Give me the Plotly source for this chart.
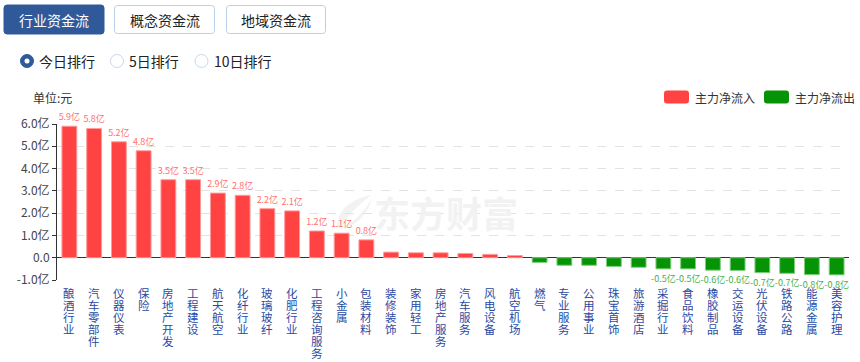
import plotly.graph_objects as go

categories = ["酿酒行业", "汽车零部件", "仪器仪表", "保险", "房地产开发", "工程建设", "航天航空", "化纤行业",
              "玻璃玻纤", "化肥行业", "工程咨询服务", "小金属", "包装材料", "装修装饰", "家用轻工", "房地产服务",
              "汽车服务", "风电设备", "航空机场", "燃气", "专业服务", "公用事业", "珠宝首饰", "旅游酒店",
              "采掘行业", "食品饮料", "橡胶制品", "交运设备", "光伏设备", "铁路公路", "能源金属", "美容护理"]
values = [5.9, 5.8, 5.2, 4.8, 3.5, 3.5, 2.9, 2.8, 2.2, 2.1, 1.2, 1.1, 0.8, 0.25, 0.22, 0.22,
          0.19, 0.15, 0.1, -0.21, -0.34, -0.34, -0.39, -0.43, -0.5, -0.5, -0.56, -0.57, -0.67, -0.7, -0.76, -0.77]
ytick_vals = [-1, 0, 1, 2, 3, 4, 5, 6]
ytick_text = ["-1.0亿", "0.0", "1.0亿", "2.0亿", "3.0亿", "4.0亿", "5.0亿", "6.0亿"]
tabs = ["行业资金流", "概念资金流", "地域资金流"]
radios = ["今日排行", "5日排行", "10日排行"]
legend_names = ["主力净流入", "主力净流出"]

W, H = 860, 362
ML, MR, MT, MB = 57, 11, 124, 82
PW, PH = W - ML - MR, H - MT - MB
FONT = "Noto Sans CJK SC"
RED, GREEN = "#ff4242", "#069406"


def px(x):
    return (x - ML) / PW


def py(y):
    return 1 - (y - MT) / PH


def rrect(x0, y0, x1, y1, r):
    pts = [
        f"M{px(x0 + r)},{py(y0)}",
        f"L{px(x1 - r)},{py(y0)}", f"Q{px(x1)},{py(y0)} {px(x1)},{py(y0 + r)}",
        f"L{px(x1)},{py(y1 - r)}", f"Q{px(x1)},{py(y1)} {px(x1 - r)},{py(y1)}",
        f"L{px(x0 + r)},{py(y1)}", f"Q{px(x0)},{py(y1)} {px(x0)},{py(y1 - r)}",
        f"L{px(x0)},{py(y0 + r)}", f"Q{px(x0)},{py(y0)} {px(x0 + r)},{py(y0)}", "Z",
    ]
    return " ".join(pts)


def leaf(p0, c1, p1, c2):
    return (f"M{px(p0[0])},{py(p0[1])} Q{px(c1[0])},{py(c1[1])} {px(p1[0])},{py(p1[1])} "
            f"Q{px(c2[0])},{py(c2[1])} {px(p0[0])},{py(p0[1])} Z")


colors = [RED if v >= 0 else GREEN for v in values]
line_colors = ["#ff9c9c" if v >= 0 else "#7fcf7f" for v in values]
labels = [f"{v:.1f}亿" if abs(v) >= 0.45 else "" for v in values]
label_colors = ["#ff7070" if v >= 0 else "#45b045" for v in values]

fig = go.Figure()
fig.add_trace(go.Bar(
    x=categories, y=values,
    marker=dict(color=colors, line=dict(color=line_colors, width=1)),
    text=labels, textposition="outside", constraintext="none", cliponaxis=False,
    textfont=dict(size=9, color=label_colors, family=FONT),
    showlegend=False, hoverinfo="x+y",
))

shapes = []
annotations = []

# Watermark logo + text
shapes.append(dict(type="path", xref="paper", yref="paper", layer="below",
                   path=leaf((337, 229), (336, 203), (371, 195), (352, 210)),
                   fillcolor="#f2f2f2", line=dict(width=0)))
shapes.append(dict(type="path", xref="paper", yref="paper", layer="below",
                   path=leaf((343, 229), (365, 222), (372, 199), (360, 218)),
                   fillcolor="#f2f2f2", line=dict(width=0)))
annotations.append(dict(xref="paper", yref="paper", x=px(446), y=py(212), xanchor="center", yanchor="middle",
                        text="<b>东方财富</b>", showarrow=False,
                        font=dict(size=36, color="#f2f2f2", family=FONT)))

# category labels, written vertically one character under another
for c in categories:
    for i, ch in enumerate(c):
        annotations.append(dict(xref="x", yref="paper", x=c, y=0, xanchor="center", yanchor="top", text=ch,
                                showarrow=False, yshift=-4 - i * 12, borderpad=0,
                                font=dict(size=11.5, color="#2a4aa3", family=FONT)))

# tabs
tab_x = [(4, 104), (114, 215), (226, 326)]
for i, (name, (a, b)) in enumerate(zip(tabs, tab_x)):
    if i == 0:
        shapes.append(dict(type="path", xref="paper", yref="paper", path=rrect(a, 5, b, 34, 3),
                           fillcolor="#30599a", line=dict(color="#30599a", width=1)))
        col = "white"
    else:
        shapes.append(dict(type="path", xref="paper", yref="paper", path=rrect(a + 0.5, 5.5, b - 0.5, 33.5, 3),
                           fillcolor="white", line=dict(color="#b9d0ea", width=1)))
        col = "#222222"
    annotations.append(dict(xref="paper", yref="paper", x=px((a + b) / 2), y=py(19.5),
                            xanchor="center", yanchor="middle", text=name,
                            showarrow=False, font=dict(size=14, color=col, family=FONT)))

# radios
radio_cx = [27, 117, 201.5]
for i, (name, cx) in enumerate(zip(radios, radio_cx)):
    r = 6.5
    if i == 0:
        shapes.append(dict(type="circle", xref="paper", yref="paper", x0=px(cx - r), x1=px(cx + r),
                           y0=py(61 + r), y1=py(61 - r), fillcolor="#30599a", line=dict(color="#30599a", width=1)))
        shapes.append(dict(type="circle", xref="paper", yref="paper", x0=px(cx - 2.5), x1=px(cx + 2.5),
                           y0=py(61 + 2.5), y1=py(61 - 2.5), fillcolor="white", line=dict(color="white", width=0)))
    else:
        shapes.append(dict(type="circle", xref="paper", yref="paper", x0=px(cx - r), x1=px(cx + r),
                           y0=py(61 + r), y1=py(61 - r), fillcolor="white", line=dict(color="#c8d8ea", width=1)))
    annotations.append(dict(xref="paper", yref="paper", x=px(cx + 10), y=py(61), xanchor="left", yanchor="middle",
                            text=name, showarrow=False, font=dict(size=14, color="#222222", family=FONT)))

# unit label
annotations.append(dict(xref="paper", yref="paper", x=px(31), y=py(97), xanchor="left", yanchor="middle",
                        text="单位:元", showarrow=False, font=dict(size=12, color="#333333", family=FONT)))

# legend
for name, col, x0 in zip(legend_names, [RED, GREEN], [664, 764]):
    shapes.append(dict(type="path", xref="paper", yref="paper", path=rrect(x0, 90.5, x0 + 25, 103.5, 3),
                       fillcolor=col, line=dict(color=col, width=0)))
    annotations.append(dict(xref="paper", yref="paper", x=px(x0 + 29), y=py(97), xanchor="left", yanchor="middle",
                            text=name, showarrow=False, font=dict(size=12, color="#333333", family=FONT)))

fig.update_layout(
    width=W, height=H, margin=dict(l=ML, r=MR, t=MT, b=MB, autoexpand=False),
    paper_bgcolor="white", plot_bgcolor="white",
    font=dict(family=FONT, color="#333333"),
    bargap=0.4, shapes=shapes, annotations=annotations,
    xaxis=dict(range=[-0.5, len(categories) - 0.5], showticklabels=False, ticks="",
               showgrid=False, showline=False, zeroline=False, fixedrange=True, automargin=False),
    yaxis=dict(range=[-1, 6], tickvals=ytick_vals, ticktext=ytick_text,
               tickfont=dict(size=12, color="#444444", family=FONT),
               showline=True, linecolor="#333333", linewidth=1,
               ticks="outside", ticklen=4, tickcolor="#333333",
               showgrid=True, gridcolor="#e3e3e3", griddash="dash", gridwidth=1,
               zeroline=True, zerolinecolor="#333333", zerolinewidth=1, fixedrange=True, automargin=False),
)

fig.write_html("out.html", config={"displayModeBar": False},
               post_script="document.body.style.margin='0';document.body.style.padding='0';")
